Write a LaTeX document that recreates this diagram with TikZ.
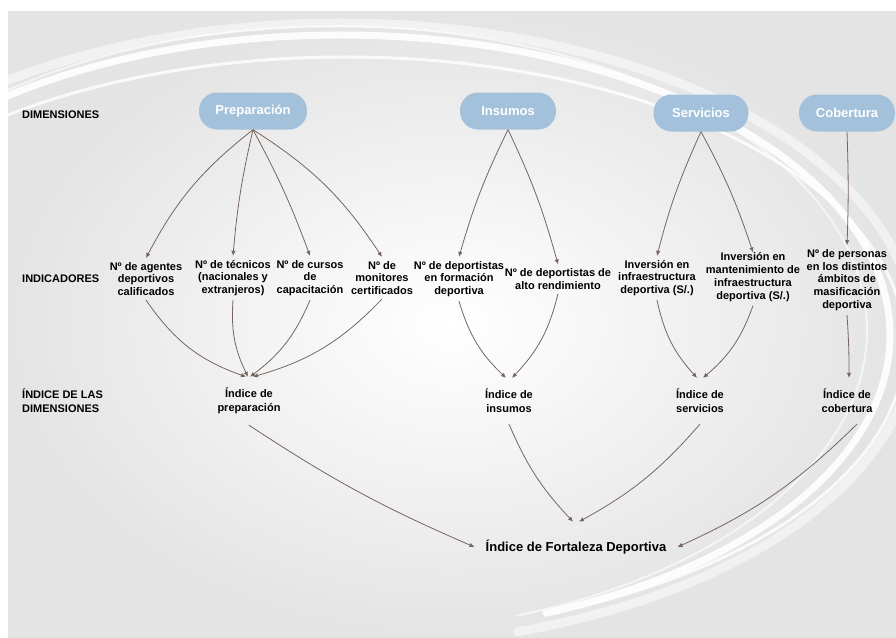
\documentclass[tikz,border=0pt]{standalone}
\usepackage{fontspec}
\setmainfont{Liberation Sans}
\usetikzlibrary{arrows.meta}

\definecolor{pillblue}{HTML}{A3C1DA}
\definecolor{arrowbrown}{HTML}{76655E}
\definecolor{bggray}{HTML}{E4E4E4}

\tikzset{
    dimbox/.style={fill=pillblue, rounded corners=18pt, minimum height=37pt, text=white, font=\bfseries\fontsize{13}{15}\selectfont},
    indic/.style={align=center, inner xsep=1pt, inner ysep=4pt, font=\bfseries\fontsize{11}{12.8}\selectfont},
    idx/.style={align=center, inner ysep=11pt, font=\bfseries\fontsize{11}{14}\selectfont},
    rowlabel/.style={anchor=west, align=left, inner sep=0pt, font=\bfseries\fontsize{11}{14}\selectfont},
    flecha/.style={draw=arrowbrown, line width=0.8pt, -{Latex[length=5pt,width=4.5pt]}},
    swirl/.style={draw=white, line cap=round}
}

\begin{document}
\begin{tikzpicture}[x=1pt,y=1pt]
        \useasboundingbox (0,0) rectangle (896,-637);
    %Background
        \fill[white] (0,0) rectangle (896,-637);
        \shade[inner color=white, outer color=bggray] (8,-11) rectangle (896,-637);
        \begin{scope}
            \clip (8,-11) rectangle (896,-637);
            \draw[swirl, line width=9pt, opacity=.5] (340,-335) ++(140:575 and 312) arc[start angle=140, end angle=-72, x radius=575, y radius=312];
            \draw[swirl, line width=7pt, opacity=.9] (340,-335) ++(140:550 and 300) arc[start angle=140, end angle=-68, x radius=550, y radius=300];
            \draw[swirl, line width=3pt, opacity=.8] (345,-345) ++(140:560 and 288) arc[start angle=140, end angle=-64, x radius=560, y radius=288];
            \draw[swirl, line width=2pt, opacity=.6] (335,-330) ++(140:532 and 304) arc[start angle=140, end angle=-70, x radius=532, y radius=304];
        \end{scope}
    %Row labels
        \node[rowlabel] (ldim) at (22,-115) {DIMENSIONES};
        \node[rowlabel] (lind) at (22,-279) {INDICADORES};
        \node[rowlabel] (lidx) at (22,-401) {ÍNDICE DE LAS\\DIMENSIONES};
    %Dimensions
        \node[dimbox, minimum width=108pt] (prep) at (253,-111) {Preparación};
        \node[dimbox, minimum width=96pt] (ins) at (508,-111) {Insumos};
        \node[dimbox, minimum width=95pt] (serv) at (701,-113) {Servicios};
        \node[dimbox, minimum width=96pt] (cob) at (847,-113) {Cobertura};
    %Indicators
        \node[indic] (agentes) at (146,-279) {Nº de agentes\\deportivos\\calificados};
        \node[indic] (tecnicos) at (233,-278) {Nº de técnicos\\(nacionales y\\extranjeros)};
        \node[indic] (cursos) at (310,-278) {Nº de cursos\\de\\capacitación};
        \node[indic] (monitores) at (382,-278) {Nº de\\monitores\\certificados};
        \node[indic] (formacion) at (459,-279) {Nº de deportistas\\en formación\\deportiva};
        \node[indic] (alto) at (558,-279) {Nº de deportistas de\\alto rendimiento};
        \node[indic] (infra) at (657,-278) {Inversión en\\infraestructura\\deportiva (S/.)};
        \node[indic] (mant) at (753,-277) {Inversión en\\mantenimiento de\\infraestructura\\deportiva (S/.)};
        \node[indic] (personas) at (847,-280) {Nº de personas\\en los distintos\\ámbitos de\\masificación\\deportiva};
    %Indices
        \node[idx] (iprep) at (249,-401) {Índice de\\preparación};
        \node[idx] (iins) at (509,-401) {Índice de\\insumos};
        \node[idx] (iserv) at (700,-401) {Índice de\\servicios};
        \node[idx] (icob) at (847,-401) {Índice de\\cobertura};
        \node[inner xsep=11pt, inner ysep=18pt, font=\bfseries\fontsize{13}{15}\selectfont] (ifort) at (576,-547) {Índice de Fortaleza Deportiva};
    %Dimensions to indicators
        \draw[flecha] (prep.south) to[bend right=12] (agentes.north);
        \draw[flecha] (prep.south) to[bend right=4] (tecnicos.north);
        \draw[flecha] (prep.south) to[bend left=4] (cursos.north);
        \draw[flecha] (prep.south) to[bend left=12] (monitores.north);
        \draw[flecha] (ins.south) to[bend right=5] (formacion.north);
        \draw[flecha] (ins.south) to[bend left=5] (alto.north);
        \draw[flecha] (serv.south) to[bend right=5] (infra.north);
        \draw[flecha] (serv.south) to[bend left=5] ([yshift=-4pt]mant.north);
        \draw[flecha] (cob.south) to[bend left=2] (personas.north);
    %Indicators to indices
        \draw[flecha] (agentes.south) to[bend right=18] ([xshift=-3pt]iprep.north);
        \draw[flecha] (tecnicos.south) to[bend right=15] ([xshift=-1pt]iprep.north);
        \draw[flecha] (cursos.south) to[bend left=15] ([xshift=1pt]iprep.north);
        \draw[flecha] (monitores.south) to[bend left=15] ([xshift=4pt]iprep.north);
        \draw[flecha] (formacion.south) to[bend right=15] ([xshift=-3pt]iins.north);
        \draw[flecha] (alto.south) to[bend left=15] ([xshift=3pt]iins.north);
        \draw[flecha] (infra.south) to[bend right=15] ([xshift=-3pt]iserv.north);
        \draw[flecha] (mant.south) to[bend left=15] ([xshift=3pt]iserv.north);
        \draw[flecha] (personas.south) to[bend left=2] ([xshift=2pt]icob.north);
    %Indices to final
        \draw[flecha] (iprep.south) to[bend right=5] (ifort.west);
        \draw[flecha] (iins.south) to[bend right=10] ([xshift=-3pt]ifort.north);
        \draw[flecha] (iserv.south) to[bend left=10] ([xshift=3pt]ifort.north);
        \draw[flecha] ([xshift=10pt]icob.south) to[bend left=10] (ifort.east);
\end{tikzpicture}
\end{document}
